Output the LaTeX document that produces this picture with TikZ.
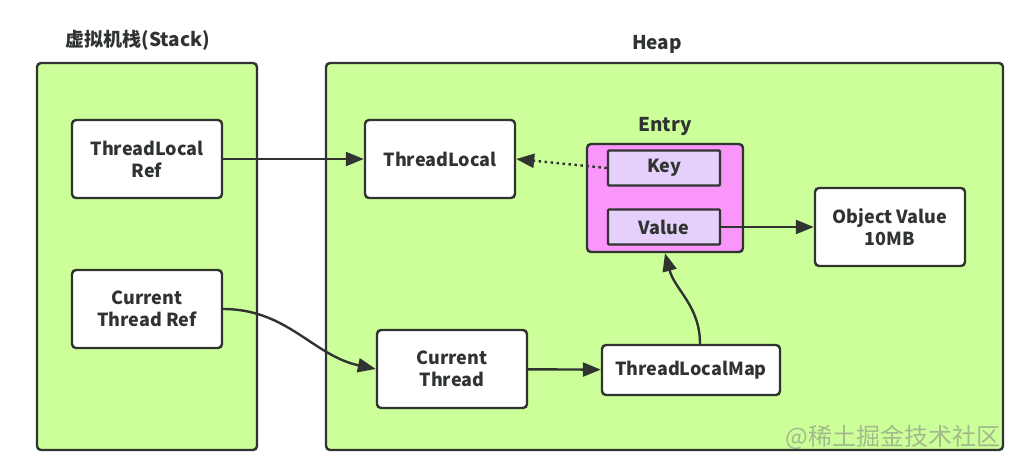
\documentclass[tikz,border=0pt]{standalone}
\usepackage{fontspec}
\setmainfont{Noto Sans CJK SC}
\usetikzlibrary{arrows.meta, positioning, calc}
\definecolor{memGreen}{RGB}{204,255,153}
\definecolor{entryPink}{RGB}{250,150,250}
\definecolor{slotLilac}{RGB}{228,208,250}
\definecolor{inkDark}{RGB}{48,52,48}
\tikzset{
  area/.style={draw=inkDark, line width=2.4pt, fill=memGreen, rounded corners=4pt},
  obj/.style={draw=inkDark, line width=2.4pt, fill=white, rounded corners=4pt,
    text=inkDark, font=\bfseries\fontsize{18}{22}\selectfont, align=center,
    minimum width=150pt, minimum height=78pt, inner sep=0pt},
  slot/.style={obj, fill=slotLilac, rounded corners=1pt, minimum width=112pt, minimum height=35pt},
  title/.style={text=inkDark, font=\bfseries\fontsize{19}{22}\selectfont},
  ref/.style={draw=inkDark, line width=2.4pt, -{Triangle[length=18pt,width=14pt]}}
}
\begin{document}
\begin{tikzpicture}[x=1pt, y=-1pt]
    \useasboundingbox (0,0) rectangle (1036,475);
    % stack and heap
    \draw[area] (37,63) rectangle (257,450);
    \draw[area] (326,63) rectangle (1003,450);
    \node[title] (stackLabel) at (138,40) {虚拟机栈(Stack)};
    \node[title] (heapLabel) at (657,44) {Heap};
    % stack references
    \node[obj] (tlRef) at (147,159) {ThreadLocal\\Ref};
    \node[obj] (ctRef) at (147,309) {Current\\Thread Ref};
    % heap objects
    \node[obj] (tl) at (440,159) {ThreadLocal};
    \node[obj, fill=entryPink, minimum width=156pt, minimum height=108pt] (entry) at (665,198) {};
    \node[title] (entryLabel) at (665,126) {Entry};
    \node[slot] (key) at (664,168) {Key};
    \node[slot] (val) at (664,227) {Value};
    \node[obj] (objVal) at (890,227) {Object Value\\10MB};
    \node[obj] (ct) at (452,369) {Current\\Thread};
    \node[obj, minimum width=178pt, minimum height=50pt] (tlMap) at (691,370) {ThreadLocalMap};
    \coordinate (mapTop) at ([xshift=9pt]tlMap.north);
    % references
    \draw[ref] (tlRef) -- (tl);
    \draw[ref, dash pattern=on 2.5pt off 3.5pt] (key.west) -- (tl.east);
    \draw[ref] (val) -- (objVal);
    \draw[ref] (ctRef.east) to[out=0, in=168] (ct.west);
    \draw[ref] (ct) -- (tlMap);
    \draw[ref] (mapTop) to[out=90, in=-75] (entry.south);
    \node[text=gray, opacity=0.55, font=\fontsize{24}{28}\selectfont] (mark) at (893,437) {@稀土掘金技术社区};
\end{tikzpicture}
\end{document}
